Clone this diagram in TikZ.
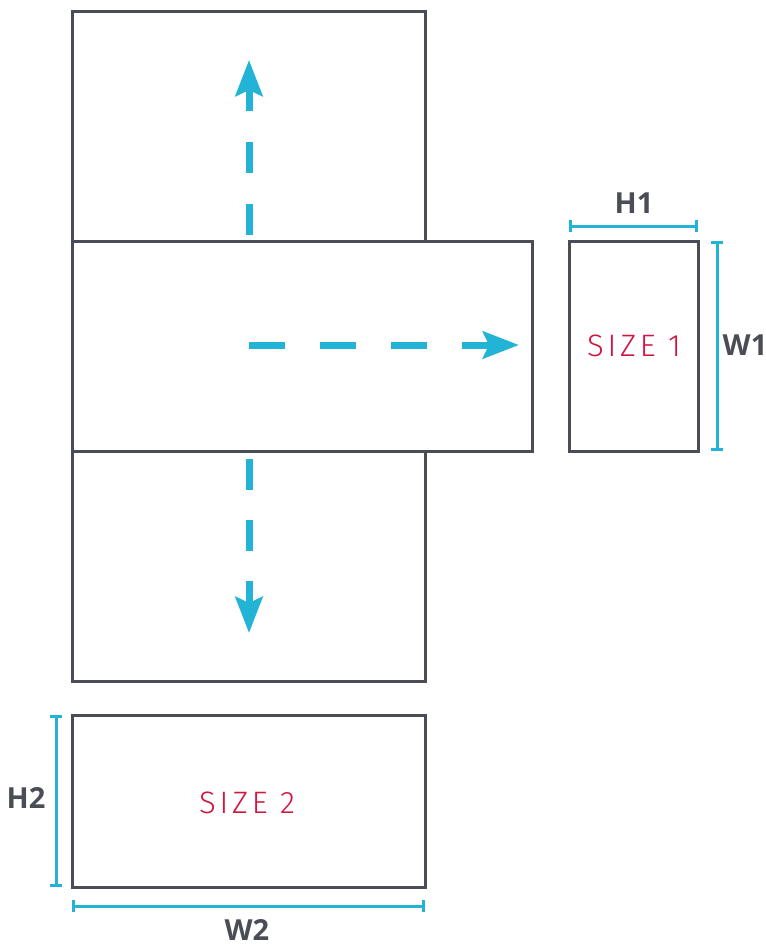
\documentclass[tikz,border=0pt]{standalone}
\usepackage{fontspec}
\setmainfont{Open Sans}
\newfontfamily\sizefont{Fira Sans Light}[LetterSpace=12]
\usetikzlibrary{arrows.meta}
\definecolor{boxgray}{HTML}{4A4D55}
\definecolor{cyanline}{HTML}{22B3D6}
\definecolor{sizered}{HTML}{D2143E}
\tikzset{
  box/.style={draw=boxgray, line width=3pt, inner sep=0pt, outer sep=0pt, anchor=north west},
  flowarrow/.style={draw=cyanline, line width=7pt, dash pattern=on #1 off #1,
    -{Stealth[length=36pt, width=27pt, inset=6pt]}},
  dimline/.style={draw=cyanline, line width=3pt, {Bar[width=12pt,line width=3pt]}-{Bar[width=12pt,line width=3pt]}},
  dimlabel/.style={text=boxgray, font=\bfseries\fontsize{29}{31}\selectfont, inner sep=0pt},
  sizelabel/.style={text=sizered, font=\sizefont\fontsize{31}{33}\selectfont, inner sep=0pt}
}
\begin{document}
\begin{tikzpicture}[x=1pt,y=-1pt]
\useasboundingbox (0,0) rectangle (766,946);
% boxes
\node[box, minimum width=353pt, minimum height=230pt] (top) at (72,11) {};
\node[box, minimum width=460pt, minimum height=210pt] (mid) at (72,241) {};
\node[box, minimum width=353pt, minimum height=230pt] (bot) at (72,451) {};
\node[box, minimum width=129pt, minimum height=210pt] (s1) at (569,241) {};
\node[box, minimum width=353pt, minimum height=172pt] (s2) at (72,715) {};
% size labels
\node[sizelabel] (t1) at (634,346) {SIZE 1};
\node[sizelabel] (t2) at (247,803) {SIZE 2};
% arrow coordinates
\coordinate (upS) at (249,235);
\coordinate (upE) at (249,60);
\coordinate (rtS) at (249,345);
\coordinate (rtE) at (519,345);
\coordinate (dnS) at (249,459);
\coordinate (dnE) at (249,633);
\draw[flowarrow=31pt] (upS) -- (upE);
\draw[flowarrow=35.5pt] (rtS) -- (rtE);
\draw[flowarrow=30.5pt] (dnS) -- (dnE);
% dimension lines
\coordinate (h1a) at (569,226);
\coordinate (h1b) at (698,226);
\coordinate (w1a) at (717,241);
\coordinate (w1b) at (717,451);
\coordinate (h2a) at (56,715);
\coordinate (h2b) at (56,887);
\coordinate (w2a) at (72,906);
\coordinate (w2b) at (425,906);
\draw[dimline] (h1a) -- (h1b);
\draw[dimline] (w1a) -- (w1b);
\draw[dimline] (h2a) -- (h2b);
\draw[dimline] (w2a) -- (w2b);
\node[dimlabel] (lh1) at (634,203) {H1};
\node[dimlabel] (lw1) at (745,345) {W1};
\node[dimlabel] (lh2) at (26,798) {H2};
\node[dimlabel] (lw2) at (247,930) {W2};
\end{tikzpicture}
\end{document}
